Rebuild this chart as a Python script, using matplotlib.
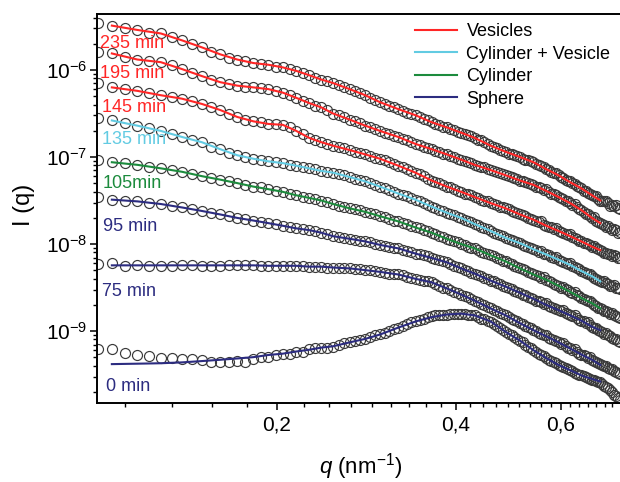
import numpy as np
import matplotlib
matplotlib.use('Agg')
import matplotlib.pyplot as plt
from matplotlib.lines import Line2D
from matplotlib.ticker import (FixedLocator, FixedFormatter, MultipleLocator, LogLocator,
                               NullFormatter, LogFormatterSciNotation)

plt.rcParams['font.family'] = ['Liberation Sans', 'DejaVu Sans']
plt.rcParams['mathtext.fontset'] = 'custom'
plt.rcParams['mathtext.rm'] = 'Liberation Sans'
plt.rcParams['mathtext.it'] = 'Liberation Sans:italic'
plt.rcParams['mathtext.default'] = 'regular'

# scattering vector q (nm^-1), measured points
q = [0.1000, 0.1055, 0.1110, 0.1165, 0.1220, 0.1275, 0.1330, 0.1385, 0.1440, 0.1495,
     0.1550, 0.1605, 0.1660, 0.1715, 0.1770, 0.1825, 0.1880, 0.1935, 0.1990, 0.2045,
     0.2100, 0.2155, 0.2210, 0.2265, 0.2320, 0.2375, 0.2430, 0.2485, 0.2540, 0.2595,
     0.2650, 0.2705, 0.2760, 0.2815, 0.2870, 0.2925, 0.2980, 0.3035, 0.3090, 0.3145,
     0.3200, 0.3255, 0.3310, 0.3365, 0.3420, 0.3475, 0.3530, 0.3585, 0.3640, 0.3695,
     0.3750, 0.3805, 0.3860, 0.3915, 0.3970, 0.4025, 0.4080, 0.4135, 0.4190, 0.4245,
     0.4300, 0.4355, 0.4410, 0.4465, 0.4520, 0.4575, 0.4630, 0.4685, 0.4740, 0.4795,
     0.4850, 0.4905, 0.4960, 0.5015, 0.5070, 0.5125, 0.5180, 0.5235, 0.5290, 0.5345,
     0.5400, 0.5455, 0.5510, 0.5565, 0.5620, 0.5675, 0.5730, 0.5785, 0.5840, 0.5895,
     0.5950, 0.6005, 0.6060, 0.6115, 0.6170, 0.6225, 0.6280, 0.6335, 0.6390, 0.6445,
     0.6500, 0.6555, 0.6610, 0.6665, 0.6720, 0.6775, 0.6830, 0.6885, 0.6940, 0.6995,
     0.7050, 0.7105, 0.7160, 0.7215, 0.7270, 0.7325, 0.7380, 0.7435, 0.7490, 0.7545]

# log10 I(q) for each time
logI_235 = [-5.46, -5.49, -5.52, -5.54, -5.57, -5.58, -5.62, -5.66, -5.70, -5.74,
            -5.79, -5.82, -5.86, -5.88, -5.90, -5.92, -5.93, -5.94, -5.96, -5.97,
            -5.99, -6.01, -6.04, -6.06, -6.09, -6.11, -6.13, -6.15, -6.17, -6.20,
            -6.22, -6.24, -6.27, -6.29, -6.32, -6.34, -6.37, -6.39, -6.41, -6.43,
            -6.45, -6.47, -6.49, -6.51, -6.52, -6.54, -6.56, -6.58, -6.60, -6.62,
            -6.63, -6.65, -6.66, -6.68, -6.69, -6.71, -6.72, -6.74, -6.75, -6.76,
            -6.78, -6.80, -6.81, -6.83, -6.85, -6.87, -6.88, -6.90, -6.92, -6.93,
            -6.94, -6.96, -6.97, -6.98, -6.99, -7.00, -7.02, -7.03, -7.04, -7.05,
            -7.06, -7.08, -7.09, -7.10, -7.12, -7.14, -7.15, -7.17, -7.18, -7.18,
            -7.21, -7.23, -7.24, -7.26, -7.27, -7.27, -7.30, -7.31, -7.33, -7.34,
            -7.36, -7.39, -7.39, -7.41, -7.42, -7.44, -7.45, -7.45, -7.48, -7.50,
            -7.50, -7.51, -7.50, -7.53, -7.56, -7.55, -7.56, -7.55, -7.59, -7.60]
logI_195 = [-5.79, -5.81, -5.85, -5.88, -5.90, -5.91, -5.94, -5.99, -6.03, -6.07,
            -6.11, -6.14, -6.16, -6.18, -6.19, -6.20, -6.21, -6.22, -6.24, -6.26,
            -6.29, -6.32, -6.36, -6.38, -6.41, -6.43, -6.46, -6.50, -6.52, -6.54,
            -6.57, -6.59, -6.61, -6.64, -6.66, -6.68, -6.70, -6.72, -6.74, -6.76,
            -6.77, -6.79, -6.81, -6.83, -6.85, -6.86, -6.88, -6.90, -6.91, -6.93,
            -6.94, -6.96, -6.97, -6.99, -7.00, -7.02, -7.03, -7.05, -7.06, -7.07,
            -7.09, -7.10, -7.11, -7.12, -7.14, -7.15, -7.16, -7.17, -7.18, -7.20,
            -7.21, -7.22, -7.23, -7.24, -7.25, -7.27, -7.28, -7.29, -7.30, -7.31,
            -7.32, -7.34, -7.35, -7.36, -7.38, -7.37, -7.40, -7.42, -7.43, -7.44,
            -7.46, -7.47, -7.48, -7.50, -7.51, -7.53, -7.55, -7.54, -7.58, -7.60,
            -7.61, -7.63, -7.65, -7.66, -7.68, -7.70, -7.69, -7.73, -7.75, -7.76,
            -7.77, -7.78, -7.80, -7.79, -7.82, -7.84, -7.83, -7.84, -7.87, -7.86]
logI_145 = [-6.15, -6.20, -6.22, -6.24, -6.26, -6.29, -6.31, -6.33, -6.36, -6.39,
            -6.43, -6.46, -6.51, -6.54, -6.57, -6.59, -6.60, -6.62, -6.62, -6.63,
            -6.65, -6.70, -6.74, -6.78, -6.80, -6.83, -6.85, -6.87, -6.89, -6.90,
            -6.92, -6.94, -6.95, -6.97, -6.99, -7.01, -7.02, -7.04, -7.06, -7.08,
            -7.10, -7.12, -7.14, -7.16, -7.18, -7.20, -7.22, -7.25, -7.27, -7.29,
            -7.30, -7.32, -7.34, -7.35, -7.37, -7.39, -7.40, -7.42, -7.43, -7.44,
            -7.46, -7.47, -7.49, -7.50, -7.51, -7.53, -7.54, -7.55, -7.57, -7.58,
            -7.59, -7.60, -7.62, -7.63, -7.64, -7.66, -7.67, -7.68, -7.70, -7.71,
            -7.72, -7.73, -7.75, -7.74, -7.78, -7.79, -7.80, -7.81, -7.83, -7.82,
            -7.85, -7.86, -7.87, -7.89, -7.90, -7.89, -7.92, -7.93, -7.94, -7.96,
            -7.97, -7.99, -7.99, -8.00, -8.01, -8.03, -8.02, -8.05, -8.06, -8.07,
            -8.08, -8.10, -8.10, -8.11, -8.12, -8.14, -8.13, -8.14, -8.16, -8.16]
logI_135 = [-6.55, -6.58, -6.61, -6.64, -6.67, -6.70, -6.73, -6.77, -6.81, -6.83,
            -6.88, -6.91, -6.95, -6.98, -7.00, -7.02, -7.04, -7.05, -7.06, -7.07,
            -7.09, -7.10, -7.12, -7.13, -7.14, -7.16, -7.17, -7.18, -7.20, -7.21,
            -7.23, -7.25, -7.26, -7.28, -7.30, -7.32, -7.34, -7.36, -7.38, -7.40,
            -7.42, -7.44, -7.45, -7.47, -7.49, -7.51, -7.53, -7.55, -7.57, -7.59,
            -7.61, -7.62, -7.64, -7.66, -7.67, -7.69, -7.70, -7.72, -7.74, -7.75,
            -7.77, -7.78, -7.80, -7.82, -7.83, -7.85, -7.87, -7.88, -7.90, -7.91,
            -7.93, -7.94, -7.95, -7.97, -7.98, -7.99, -8.01, -8.02, -8.03, -8.05,
            -8.06, -8.07, -8.09, -8.08, -8.11, -8.12, -8.13, -8.15, -8.16, -8.15,
            -8.18, -8.19, -8.21, -8.22, -8.23, -8.22, -8.25, -8.26, -8.28, -8.29,
            -8.31, -8.32, -8.33, -8.35, -8.34, -8.37, -8.39, -8.40, -8.41, -8.43,
            -8.44, -8.43, -8.45, -8.46, -8.48, -8.48, -8.47, -8.50, -8.51, -8.52]
logI_105 = [-7.04, -7.06, -7.07, -7.09, -7.11, -7.13, -7.15, -7.17, -7.20, -7.22,
            -7.24, -7.26, -7.28, -7.30, -7.32, -7.34, -7.35, -7.37, -7.39, -7.40,
            -7.42, -7.44, -7.46, -7.47, -7.48, -7.50, -7.52, -7.54, -7.56, -7.57,
            -7.59, -7.60, -7.61, -7.63, -7.64, -7.66, -7.68, -7.69, -7.71, -7.73,
            -7.74, -7.76, -7.77, -7.79, -7.81, -7.82, -7.84, -7.85, -7.87, -7.89,
            -7.91, -7.92, -7.94, -7.95, -7.97, -7.98, -8.00, -8.01, -8.03, -8.04,
            -8.05, -8.07, -8.09, -8.10, -8.12, -8.13, -8.14, -8.16, -8.17, -8.19,
            -8.20, -8.22, -8.23, -8.25, -8.26, -8.28, -8.29, -8.30, -8.32, -8.33,
            -8.35, -8.36, -8.37, -8.39, -8.38, -8.41, -8.43, -8.44, -8.46, -8.47,
            -8.48, -8.50, -8.49, -8.52, -8.53, -8.55, -8.56, -8.55, -8.59, -8.60,
            -8.62, -8.63, -8.64, -8.66, -8.65, -8.68, -8.70, -8.71, -8.73, -8.74,
            -8.75, -8.77, -8.77, -8.78, -8.80, -8.79, -8.82, -8.83, -8.84, -8.85]
logI_95 = [-7.46, -7.49, -7.50, -7.51, -7.53, -7.54, -7.56, -7.58, -7.60, -7.62,
           -7.64, -7.66, -7.68, -7.70, -7.71, -7.73, -7.75, -7.76, -7.77, -7.79,
           -7.80, -7.82, -7.83, -7.84, -7.85, -7.87, -7.89, -7.91, -7.92, -7.93,
           -7.94, -7.95, -7.96, -7.97, -7.98, -8.00, -8.01, -8.02, -8.03, -8.04,
           -8.05, -8.07, -8.08, -8.09, -8.11, -8.12, -8.13, -8.14, -8.16, -8.17,
           -8.18, -8.20, -8.21, -8.23, -8.25, -8.26, -8.28, -8.30, -8.31, -8.33,
           -8.34, -8.36, -8.37, -8.39, -8.40, -8.42, -8.43, -8.45, -8.46, -8.48,
           -8.49, -8.51, -8.52, -8.54, -8.55, -8.56, -8.58, -8.59, -8.61, -8.62,
           -8.63, -8.65, -8.66, -8.67, -8.69, -8.68, -8.71, -8.72, -8.73, -8.75,
           -8.76, -8.77, -8.76, -8.79, -8.80, -8.82, -8.83, -8.82, -8.85, -8.87,
           -8.88, -8.89, -8.91, -8.90, -8.93, -8.95, -8.96, -8.97, -8.99, -9.00,
           -9.01, -9.03, -9.02, -9.05, -9.06, -9.08, -9.09, -9.09, -9.11, -9.13]
logI_75 = [-8.23, -8.22, -8.25, -8.24, -8.25, -8.25, -8.25, -8.24, -8.24, -8.25,
           -8.25, -8.25, -8.24, -8.24, -8.24, -8.24, -8.25, -8.25, -8.25, -8.25,
           -8.25, -8.25, -8.25, -8.26, -8.26, -8.26, -8.27, -8.27, -8.27, -8.28,
           -8.28, -8.29, -8.29, -8.30, -8.30, -8.31, -8.32, -8.33, -8.34, -8.35,
           -8.35, -8.36, -8.38, -8.39, -8.40, -8.41, -8.42, -8.43, -8.44, -8.46,
           -8.48, -8.50, -8.51, -8.53, -8.55, -8.56, -8.58, -8.60, -8.61, -8.63,
           -8.65, -8.67, -8.69, -8.70, -8.72, -8.74, -8.76, -8.77, -8.79, -8.80,
           -8.82, -8.84, -8.86, -8.87, -8.89, -8.91, -8.92, -8.94, -8.95, -8.97,
           -8.99, -9.00, -9.02, -9.03, -9.05, -9.04, -9.08, -9.09, -9.10, -9.12,
           -9.13, -9.15, -9.14, -9.17, -9.19, -9.20, -9.22, -9.21, -9.24, -9.26,
           -9.27, -9.28, -9.29, -9.31, -9.30, -9.33, -9.34, -9.35, -9.37, -9.38,
           -9.39, -9.40, -9.40, -9.43, -9.44, -9.44, -9.46, -9.47, -9.48, -9.49]
logI_0 = [-9.21, -9.21, -9.25, -9.28, -9.29, -9.31, -9.31, -9.32, -9.32, -9.33,
          -9.35, -9.35, -9.35, -9.34, -9.36, -9.32, -9.30, -9.30, -9.28, -9.26,
          -9.26, -9.24, -9.24, -9.21, -9.20, -9.20, -9.19, -9.18, -9.16, -9.14,
          -9.13, -9.11, -9.10, -9.09, -9.07, -9.05, -9.03, -9.02, -9.00, -8.98,
          -8.96, -8.94, -8.92, -8.90, -8.89, -8.87, -8.86, -8.84, -8.83, -8.82,
          -8.82, -8.81, -8.81, -8.80, -8.80, -8.80, -8.80, -8.80, -8.81, -8.81,
          -8.82, -8.84, -8.86, -8.86, -8.88, -8.90, -8.92, -8.94, -8.96, -8.99,
          -9.01, -9.03, -9.05, -9.07, -9.09, -9.11, -9.13, -9.16, -9.18, -9.20,
          -9.22, -9.24, -9.26, -9.27, -9.29, -9.31, -9.33, -9.34, -9.36, -9.37,
          -9.39, -9.40, -9.41, -9.43, -9.44, -9.45, -9.46, -9.48, -9.49, -9.50,
          -9.51, -9.52, -9.53, -9.54, -9.55, -9.56, -9.56, -9.57, -9.58, -9.59,
          -9.61, -9.63, -9.64, -9.66, -9.68, -9.70, -9.73, -9.75, -9.77, -9.79]

# model fits (log10 I) on a coarser q grid
fit_q = [0.1055, 0.1165, 0.1275, 0.1385, 0.1495, 0.1605, 0.1715, 0.1825, 0.1935, 0.2045,
         0.2155, 0.2265, 0.2375, 0.2485, 0.2650, 0.2815, 0.2980, 0.3200, 0.3420, 0.3640,
         0.3860, 0.4080, 0.4300, 0.4575, 0.4850, 0.5125, 0.5400, 0.5675, 0.5950, 0.6225,
         0.6500, 0.6775, 0.6995]
fit_235 = [-5.49, -5.54, -5.58, -5.66, -5.74, -5.82, -5.88, -5.92, -5.94, -5.97,
           -6.01, -6.06, -6.11, -6.15, -6.22, -6.29, -6.37, -6.45, -6.52, -6.60,
           -6.66, -6.72, -6.78, -6.87, -6.94, -7.00, -7.06, -7.14, -7.21, -7.29,
           -7.36, -7.44, -7.50]
fit_195 = [-5.81, -5.88, -5.91, -5.99, -6.07, -6.14, -6.18, -6.20, -6.22, -6.26,
           -6.32, -6.38, -6.43, -6.50, -6.57, -6.64, -6.70, -6.77, -6.85, -6.91,
           -6.97, -7.03, -7.09, -7.15, -7.21, -7.27, -7.32, -7.39, -7.46, -7.53,
           -7.61, -7.70, -7.76]
fit_145 = [-6.20, -6.24, -6.29, -6.33, -6.39, -6.46, -6.54, -6.59, -6.62, -6.63,
           -6.70, -6.78, -6.83, -6.87, -6.92, -6.97, -7.02, -7.10, -7.18, -7.27,
           -7.34, -7.40, -7.46, -7.53, -7.59, -7.66, -7.72, -7.79, -7.85, -7.91,
           -7.97, -8.03, -8.07]
fit_135 = [-6.58, -6.64, -6.70, -6.77, -6.83, -6.91, -6.98, -7.02, -7.05, -7.07,
           -7.10, -7.13, -7.16, -7.18, -7.23, -7.28, -7.34, -7.42, -7.49, -7.57,
           -7.64, -7.70, -7.77, -7.85, -7.93, -7.99, -8.06, -8.12, -8.18, -8.24,
           -8.31, -8.37, -8.43]
fit_105 = [-7.06, -7.09, -7.13, -7.17, -7.22, -7.26, -7.30, -7.34, -7.37, -7.40,
           -7.44, -7.47, -7.50, -7.54, -7.59, -7.63, -7.68, -7.74, -7.81, -7.87,
           -7.94, -8.00, -8.05, -8.13, -8.20, -8.28, -8.35, -8.41, -8.48, -8.55,
           -8.62, -8.68, -8.74]
fit_95 = [-7.49, -7.51, -7.54, -7.58, -7.62, -7.66, -7.70, -7.73, -7.76, -7.79,
          -7.82, -7.84, -7.87, -7.91, -7.94, -7.97, -8.01, -8.05, -8.11, -8.16,
          -8.21, -8.28, -8.34, -8.42, -8.49, -8.56, -8.63, -8.70, -8.76, -8.82,
          -8.88, -8.95, -8.99]
fit_75 = [-8.245, -8.245, -8.245, -8.245, -8.245, -8.245, -8.245, -8.245, -8.25, -8.25,
          -8.25, -8.26, -8.26, -8.27, -8.28, -8.30, -8.32, -8.35, -8.40, -8.44,
          -8.51, -8.58, -8.65, -8.74, -8.82, -8.91, -8.99, -9.06, -9.13, -9.20,
          -9.27, -9.33, -9.39]
fit_0 = [-9.38, -9.375, -9.37, -9.36, -9.345, -9.33, -9.315, -9.30, -9.275, -9.26,
         -9.235, -9.215, -9.19, -9.175, -9.13, -9.09, -9.04, -8.96, -8.89, -8.84,
         -8.81, -8.80, -8.82, -8.89, -9.01, -9.11, -9.22, -9.31, -9.39, -9.45,
         -9.51, -9.55, -9.58]

labels = ['235 min', '195 min', '145 min', '135 min', '105min', '95 min', '75 min', '0 min']
models = ['Vesicles', 'Vesicles', 'Vesicles', 'Cylinder + Vesicle', 'Cylinder', 'Sphere', 'Sphere', 'Sphere']
y_ticks = [1e-9, 1e-8, 1e-7, 1e-6]

red = '#ff2626'
cyan = '#62cbe2'
green = '#1c8b3d'
navy = '#2c2c80'
model_colors = {'Vesicles': red, 'Cylinder + Vesicle': cyan, 'Cylinder': green, 'Sphere': navy}

data = [logI_235, logI_195, logI_145, logI_135, logI_105, logI_95, logI_75, logI_0]
fits = [fit_235, fit_195, fit_145, fit_135, fit_105, fit_95, fit_75, fit_0]

fig = plt.figure(figsize=(6.2, 4.82), dpi=100)
ax = fig.add_axes([97/620, 1 - 403/482, 523/620, 389/482])

for logI, fit, m in zip(data, fits, models):
    ax.plot(q, 10**np.array(logI), 'o', ms=7.2, mfc='none', mec='#3a3a3a', mew=0.85, zorder=2)
    ax.plot(fit_q, 10**np.array(fit), color=model_colors[m], lw=1.5, zorder=3)

ax.set_xscale('log')
ax.set_yscale('log')
ax.set_xlim(0.0996, 0.755)
ax.set_ylim(1.49e-10, 4.40e-6)

ax.xaxis.set_major_locator(FixedLocator([0.2, 0.4, 0.6]))
ax.xaxis.set_major_formatter(FixedFormatter(['0,2', '0,4', '0,6']))
ax.xaxis.set_minor_locator(MultipleLocator(0.2/9))
ax.xaxis.set_minor_formatter(NullFormatter())
ax.yaxis.set_major_locator(FixedLocator(y_ticks))
ax.yaxis.set_major_formatter(LogFormatterSciNotation())
ax.yaxis.set_minor_locator(LogLocator(base=10, subs=np.arange(2, 10), numticks=100))
ax.yaxis.set_minor_formatter(NullFormatter())

ax.tick_params(which='major', direction='out', length=5, width=1.1, labelsize=15)
ax.tick_params(which='minor', direction='out', length=3, width=1.0)
ax.tick_params(axis='y', which='major', pad=2)
ax.tick_params(axis='x', which='major', pad=4)
ax.spines['right'].set_visible(False)
for s in ['left', 'bottom', 'top']:
    ax.spines[s].set_linewidth(1.4)

# time labels on the left
label_y = [2.0e-6, 9.0e-7, 3.66e-7, 1.57e-7, 5.0e-8, 1.61e-8, 2.88e-9, 2.33e-10]
label_x = [0.1008, 0.1008, 0.1016, 0.1016, 0.1016, 0.1020, 0.1016, 0.1031]
for txt, m, lx, ly in zip(labels, models, label_x, label_y):
    ax.text(lx, ly, txt, color=model_colors[m], fontsize=13, ha='left', va='center')

handles = [Line2D([0], [0], color=model_colors[k], lw=1.5) for k in model_colors]
ax.legend(handles, list(model_colors.keys()), loc='upper left', bbox_to_anchor=(0.608, 0.977),
          frameon=False, fontsize=13, handlelength=2.3, handletextpad=0.55,
          labelspacing=0.31, borderpad=0, borderaxespad=0)

ax.set_ylabel('I (q)', fontsize=17)
ax.yaxis.set_label_coords(-0.118, 0.51)
fig.text(361/620, 1 - 467/482, r'$\mathit{q}$ (nm$^{-1}$)', fontsize=16, ha='center', va='center')

fig.savefig('out.png', dpi=100)
